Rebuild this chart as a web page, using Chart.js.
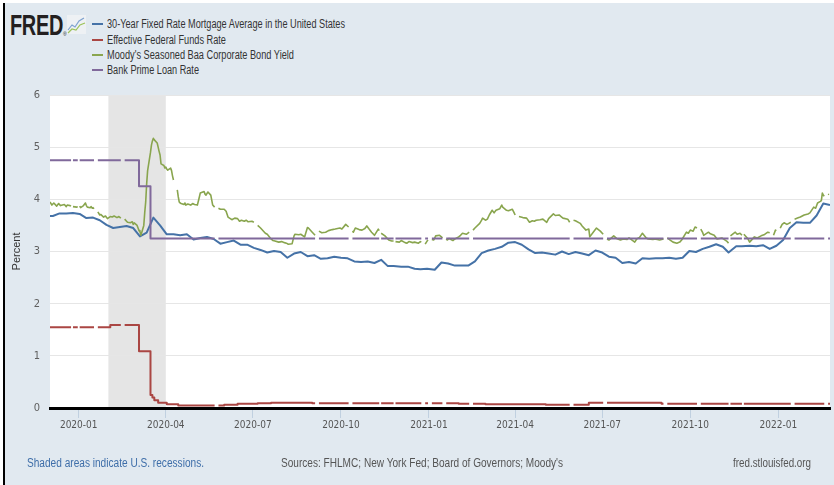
<!DOCTYPE html>
<html>
<head>
<meta charset="utf-8">
<script src="https://cdn.jsdelivr.net/npm/chart.js@4.4.1/dist/chart.umd.min.js"></script>
<style>
  html,body{margin:0;padding:0;background:#fff;}
  #wrap{position:relative;width:834px;height:485px;overflow:hidden;background:#fff;}
  .abs{position:absolute;white-space:nowrap;transform-origin:left center;}
  .lg{font:12px 'Liberation Sans',Arial,sans-serif;line-height:14px;color:#333;}
  .ft{font:12px 'Liberation Sans',Arial,sans-serif;line-height:14px;color:#555;}
  .sw{position:absolute;left:92px;width:11px;height:2px;}
</style>
</head>
<body>
<div id="wrap">
  <div class="abs" style="left:5px;top:3px;width:829px;height:482px;background:#e1e9f0;"></div>
  <div class="abs" style="left:3px;top:3px;width:2px;height:482px;background:#000;"></div>
  <div class="abs" data-w="53" style="left:10px;top:11px;font:bold 29px 'Liberation Sans',Arial,sans-serif;line-height:29px;color:#231f20;letter-spacing:-0.5px;">FRED</div>
  <div class="abs" style="left:63px;top:31px;font:5px 'Liberation Sans',Arial,sans-serif;color:#231f20;">®</div>
  <svg class="abs" style="left:67px;top:15px" width="19" height="19" viewBox="0 0 19 19">
    <rect x="0" y="0" width="19" height="19" fill="#eef1f4"/>
    <polyline points="1,15 5,10 8,12 12,6 17,3" fill="none" stroke="#7ea2cf" stroke-width="1.2"/>
    <polyline points="1,18 5,14 9,15 13,10 18,8" fill="none" stroke="#9cc35a" stroke-width="1.2"/>
  </svg>
  <div id="legend"></div>
  <canvas id="c" width="834" height="485" style="position:absolute;left:0;top:0;"></canvas>
  <div class="abs ft" data-w="177" style="left:27px;top:456px;color:#3e6ea9;">Shaded areas indicate U.S. recessions.</div>
  <div class="abs ft" data-w="282" style="left:281px;top:456px;">Sources: FHLMC; New York Fed; Board of Governors; Moody's</div>
  <div class="abs ft" data-w="78" style="left:733px;top:456px;">fred.stlouisfed.org</div>
</div>
<script>
// ---------------- DATA ----------------
const seriesNames = [
  '30-Year Fixed Rate Mortgage Average in the United States',
  'Effective Federal Funds Rate',
  "Moody's Seasoned Baa Corporate Bond Yield",
  'Bank Prime Loan Rate'
];
const xRange = ['2019-12-02', '2022-02-24'];
const quarterTicks = ['2020-01-01','2020-04-01','2020-07-01','2020-10-01','2021-01-01','2021-04-01','2021-07-01','2021-10-01','2022-01-01'];
const recession = ['2020-02-01', '2020-04-01'];
const yTicks = [0, 1, 2, 3, 4, 5, 6];

// 30-year mortgage (weekly)
const mortgageDates = ['2019-11-27','2019-12-05','2019-12-12','2019-12-19','2019-12-26','2020-01-02','2020-01-09','2020-01-16','2020-01-23','2020-01-30','2020-02-06','2020-02-13','2020-02-20','2020-02-27','2020-03-05','2020-03-12','2020-03-19','2020-03-26','2020-04-02','2020-04-09','2020-04-16','2020-04-23','2020-04-30','2020-05-07','2020-05-14','2020-05-21','2020-05-28','2020-06-04','2020-06-11','2020-06-18','2020-06-25','2020-07-02','2020-07-09','2020-07-16','2020-07-23','2020-07-30','2020-08-06','2020-08-13','2020-08-20','2020-08-27','2020-09-03','2020-09-10','2020-09-17','2020-09-24','2020-10-01','2020-10-08','2020-10-15','2020-10-22','2020-10-29','2020-11-05','2020-11-12','2020-11-19','2020-11-25','2020-12-03','2020-12-10','2020-12-17','2020-12-23','2020-12-30','2021-01-07','2021-01-14','2021-01-21','2021-01-28','2021-02-04','2021-02-11','2021-02-18','2021-02-25','2021-03-04','2021-03-11','2021-03-18','2021-03-25','2021-04-01','2021-04-08','2021-04-15','2021-04-22','2021-04-29','2021-05-06','2021-05-13','2021-05-20','2021-05-27','2021-06-03','2021-06-10','2021-06-17','2021-06-24','2021-07-01','2021-07-08','2021-07-15','2021-07-22','2021-07-29','2021-08-05','2021-08-12','2021-08-19','2021-08-26','2021-09-02','2021-09-09','2021-09-16','2021-09-23','2021-09-30','2021-10-07','2021-10-14','2021-10-21','2021-10-28','2021-11-04','2021-11-10','2021-11-18','2021-11-24','2021-12-02','2021-12-09','2021-12-16','2021-12-23','2021-12-30','2022-01-06','2022-01-13','2022-01-20','2022-01-27','2022-02-03','2022-02-10','2022-02-17','2022-02-24'];
const mortgageValues = [3.68,3.68,3.73,3.73,3.74,3.72,3.64,3.65,3.60,3.51,3.45,3.47,3.49,3.45,3.29,3.36,3.65,3.50,3.33,3.33,3.31,3.33,3.23,3.26,3.28,3.24,3.15,3.18,3.21,3.13,3.13,3.07,3.03,2.98,3.01,2.99,2.88,2.96,2.99,2.91,2.93,2.86,2.87,2.90,2.88,2.87,2.81,2.80,2.81,2.78,2.84,2.72,2.72,2.71,2.71,2.67,2.66,2.67,2.65,2.79,2.77,2.73,2.73,2.73,2.81,2.97,3.02,3.05,3.09,3.17,3.18,3.13,3.04,2.97,2.98,2.96,2.94,3.00,2.95,2.99,2.96,2.93,3.02,2.98,2.90,2.88,2.78,2.80,2.77,2.87,2.86,2.87,2.87,2.88,2.86,2.88,3.01,2.99,3.05,3.09,3.14,3.09,2.98,3.10,3.10,3.11,3.10,3.12,3.05,3.11,3.22,3.45,3.56,3.55,3.55,3.69,3.92,3.89];

// Effective Federal Funds Rate (daily, held between these changes)
const fundsStepDates = ['2019-12-02','2020-02-03','2020-03-04','2020-03-16','2020-03-18','2020-03-20','2020-03-24','2020-04-02','2020-04-14','2020-06-01','2020-06-15','2020-07-06','2020-07-20','2020-09-01','2021-02-01','2021-03-01','2021-05-03','2021-06-17','2021-09-01'];
const fundsStepValues = [1.55,1.59,1.09,0.25,0.20,0.15,0.10,0.07,0.05,0.06,0.08,0.09,0.10,0.09,0.08,0.07,0.06,0.10,0.08];

// Bank Prime Loan Rate (daily, held between these changes)
const primeStepDates = ['2019-12-02','2020-03-04','2020-03-16'];
const primeStepValues = [4.75, 4.25, 3.25];

// Days with no Fed-published value (gaps in the daily lines)
const fedHolidays = ['2019-12-25','2020-01-01','2020-01-20','2020-02-17','2020-05-25','2020-09-07','2020-10-12','2020-11-11','2020-11-26','2020-12-25','2021-01-01','2021-01-18','2021-02-15','2021-05-31','2021-07-05','2021-09-06','2021-10-11','2021-11-11','2021-11-25','2022-01-17','2022-02-21'];

// Moody's Baa (daily, null = missing day)
const baaDates = ['2019-12-02','2019-12-04','2019-12-06','2019-12-09','2019-12-11','2019-12-13','2019-12-17','2019-12-19','2019-12-20','2019-12-23','2019-12-24','2019-12-25','2019-12-26','2019-12-30','2019-12-31','2020-01-01','2020-01-02','2020-01-03','2020-01-06','2020-01-08','2020-01-09','2020-01-10','2020-01-13','2020-01-14','2020-01-15','2020-01-16','2020-01-17','2020-01-20','2020-01-21','2020-01-23','2020-01-24','2020-01-27','2020-01-29','2020-01-31','2020-02-03','2020-02-05','2020-02-07','2020-02-10','2020-02-12','2020-02-14','2020-02-17','2020-02-18','2020-02-20','2020-02-21','2020-02-24','2020-02-26','2020-02-27','2020-02-28','2020-03-02','2020-03-03','2020-03-04','2020-03-05','2020-03-06','2020-03-09','2020-03-10','2020-03-11','2020-03-12','2020-03-13','2020-03-16','2020-03-17','2020-03-18','2020-03-19','2020-03-20','2020-03-23','2020-03-24','2020-03-25','2020-03-26','2020-03-27','2020-03-30','2020-03-31','2020-04-01','2020-04-02','2020-04-03','2020-04-06','2020-04-07','2020-04-08','2020-04-09','2020-04-10','2020-04-13','2020-04-14','2020-04-15','2020-04-16','2020-04-17','2020-04-20','2020-04-21','2020-04-22','2020-04-24','2020-04-27','2020-04-29','2020-05-01','2020-05-04','2020-05-06','2020-05-07','2020-05-11','2020-05-12','2020-05-13','2020-05-15','2020-05-18','2020-05-20','2020-05-22','2020-05-25','2020-05-26','2020-05-28','2020-06-01','2020-06-03','2020-06-05','2020-06-09','2020-06-12','2020-06-15','2020-06-17','2020-06-19','2020-06-22','2020-06-24','2020-06-26','2020-06-30','2020-07-02','2020-07-03','2020-07-06','2020-07-09','2020-07-14','2020-07-16','2020-07-20','2020-07-22','2020-07-24','2020-07-28','2020-07-31','2020-08-03','2020-08-05','2020-08-07','2020-08-11','2020-08-13','2020-08-14','2020-08-18','2020-08-20','2020-08-24','2020-08-27','2020-08-28','2020-09-01','2020-09-04','2020-09-07','2020-09-08','2020-09-11','2020-09-15','2020-09-18','2020-09-22','2020-09-25','2020-09-30','2020-10-02','2020-10-06','2020-10-09','2020-10-12','2020-10-13','2020-10-14','2020-10-16','2020-10-20','2020-10-23','2020-10-26','2020-10-28','2020-10-30','2020-11-02','2020-11-05','2020-11-09','2020-11-10','2020-11-11','2020-11-12','2020-11-16','2020-11-18','2020-11-20','2020-11-23','2020-11-25','2020-11-26','2020-11-27','2020-12-01','2020-12-03','2020-12-07','2020-12-09','2020-12-11','2020-12-15','2020-12-17','2020-12-21','2020-12-23','2020-12-24','2020-12-25','2020-12-28','2020-12-29','2020-12-30','2020-12-31','2021-01-01','2021-01-04','2021-01-06','2021-01-08','2021-01-12','2021-01-14','2021-01-15','2021-01-18','2021-01-19','2021-01-20','2021-01-22','2021-01-26','2021-01-28','2021-02-01','2021-02-03','2021-02-05','2021-02-09','2021-02-12','2021-02-15','2021-02-16','2021-02-18','2021-02-23','2021-02-25','2021-02-26','2021-03-01','2021-03-03','2021-03-05','2021-03-08','2021-03-10','2021-03-12','2021-03-16','2021-03-18','2021-03-19','2021-03-23','2021-03-25','2021-03-29','2021-03-31','2021-04-01','2021-04-02','2021-04-05','2021-04-07','2021-04-09','2021-04-13','2021-04-16','2021-04-19','2021-04-21','2021-04-23','2021-04-27','2021-04-30','2021-05-04','2021-05-06','2021-05-11','2021-05-13','2021-05-17','2021-05-19','2021-05-21','2021-05-26','2021-05-28','2021-05-31','2021-06-01','2021-06-03','2021-06-08','2021-06-10','2021-06-14','2021-06-17','2021-06-18','2021-06-22','2021-06-25','2021-06-29','2021-07-02','2021-07-05','2021-07-06','2021-07-08','2021-07-13','2021-07-16','2021-07-20','2021-07-23','2021-07-27','2021-07-29','2021-08-04','2021-08-06','2021-08-09','2021-08-12','2021-08-16','2021-08-18','2021-08-23','2021-08-25','2021-08-30','2021-09-03','2021-09-06','2021-09-07','2021-09-10','2021-09-13','2021-09-17','2021-09-20','2021-09-22','2021-09-27','2021-09-29','2021-10-01','2021-10-04','2021-10-06','2021-10-08','2021-10-11','2021-10-12','2021-10-14','2021-10-15','2021-10-20','2021-10-22','2021-10-26','2021-10-29','2021-11-03','2021-11-08','2021-11-10','2021-11-11','2021-11-12','2021-11-17','2021-11-19','2021-11-22','2021-11-24','2021-11-25','2021-11-26','2021-11-30','2021-12-02','2021-12-07','2021-12-10','2021-12-14','2021-12-17','2021-12-21','2021-12-23','2021-12-24','2021-12-27','2021-12-29','2021-12-30','2021-12-31','2022-01-03','2022-01-05','2022-01-07','2022-01-10','2022-01-12','2022-01-14','2022-01-17','2022-01-18','2022-01-21','2022-01-24','2022-01-26','2022-01-28','2022-02-01','2022-02-03','2022-02-07','2022-02-09','2022-02-11','2022-02-14','2022-02-15','2022-02-16','2022-02-17','2022-02-18','2022-02-21','2022-02-22','2022-02-23'];
const baaValues = [3.95,3.89,3.93,3.87,3.92,3.88,3.90,3.86,3.89,3.88,3.87,null,3.86,3.85,3.86,null,3.87,3.84,3.88,3.93,3.88,3.85,3.84,3.86,3.83,3.84,3.82,null,3.76,3.70,3.71,3.66,3.68,3.63,3.67,3.66,3.68,3.65,3.67,3.64,null,3.62,3.58,3.56,3.55,3.57,3.52,3.55,3.50,3.45,3.40,3.38,3.31,3.50,3.75,3.95,4.30,4.55,4.90,5.04,5.12,5.17,5.14,5.08,5.00,4.92,4.85,4.68,4.65,4.60,4.62,4.58,4.56,4.60,4.55,4.45,4.37,null,4.18,4.05,3.95,3.93,3.92,3.90,3.93,3.89,3.91,3.89,3.92,3.90,3.89,4.04,4.12,4.15,4.10,4.08,4.14,4.08,3.89,3.85,null,3.83,3.81,3.81,3.77,3.66,3.61,3.64,3.63,3.58,3.60,3.58,3.60,3.57,3.58,3.56,null,3.50,3.45,3.35,3.33,3.24,3.21,3.20,3.18,3.19,3.17,3.16,3.14,3.15,3.30,3.33,3.32,3.33,3.28,3.46,3.45,3.37,3.31,null,3.39,3.36,3.37,3.40,3.42,3.43,3.45,3.43,3.52,3.47,null,3.39,3.37,3.45,3.42,3.41,3.44,3.49,3.44,3.37,3.31,3.43,3.40,null,3.35,3.30,3.26,3.22,3.20,3.20,null,3.19,3.18,3.21,3.17,3.16,3.19,3.17,3.18,3.16,3.19,3.18,null,3.14,3.17,3.20,3.22,null,3.23,3.22,3.30,3.31,3.28,3.26,null,3.24,3.22,3.25,3.21,3.24,3.28,3.31,3.35,3.33,3.37,null,3.41,3.45,3.54,3.60,3.64,3.60,3.62,3.70,3.79,3.74,3.79,3.82,3.89,3.85,3.79,3.78,3.81,3.74,3.70,null,3.67,3.66,3.65,3.64,3.56,3.59,3.58,3.60,3.61,3.62,3.56,3.63,3.72,3.69,3.70,3.67,3.64,3.62,3.56,null,3.60,3.59,3.54,3.49,3.41,3.43,3.28,3.38,3.45,3.39,3.33,null,3.24,3.22,3.30,3.25,3.22,3.24,3.23,3.26,3.18,3.24,3.27,3.35,3.26,3.24,3.23,3.24,3.22,3.24,null,3.26,3.22,3.18,3.16,3.18,3.22,3.37,3.35,3.41,3.39,3.47,3.45,null,3.43,3.36,3.31,3.37,3.34,3.31,3.24,3.26,3.20,3.16,null,3.30,3.37,3.33,3.35,3.31,null,3.33,3.25,3.18,3.28,3.26,3.30,3.32,3.37,3.36,null,3.31,3.41,3.40,null,3.45,3.52,3.55,3.52,3.54,3.56,null,3.62,3.64,3.66,3.68,3.70,3.72,3.74,3.85,3.83,3.93,3.96,3.98,4.12,4.08,4.06,null,4.10,4.09];

// ---------------- BUILD ----------------
const FONT = "'Liberation Sans Narrow','DejaVu Sans Condensed','Liberation Sans',Arial,sans-serif";
const colors = ['#4572a7', '#aa4643', '#89a54e', '#80699b'];
const DAY = 86400000;
const T = d => Date.parse(d + 'T00:00:00Z');
function bizStep(t, dir) { do { t += dir * DAY; } while ([0, 6].includes(new Date(t).getUTCDay())); return t; }
function steppedTable(stepDates, stepValues, gaps) {
  const starts = stepDates.map(T);
  const at = t => { let v = null; starts.forEach((s, i) => { if (s <= t) v = stepValues[i]; }); return v; };
  const gapT = gaps.map(T);
  const ts = new Set(starts);
  ts.add(T(xRange[1]));
  gapT.forEach(g => { ts.add(bizStep(g, -1)); ts.add(bizStep(g, 1)); ts.add(g); });
  return [...ts].sort((a, b) => a - b).map(t => ({ x: t, y: gapT.includes(t) ? null : at(t) }));
}
const pairs = (ds, vs) => ds.map((d, i) => ({ x: T(d), y: vs[i] }));

// legend (HTML)
const lg = document.getElementById('legend');
const lgCenters = [24, 39.5, 54.5, 70];
seriesNames.forEach((n, i) => {
  const sw = document.createElement('div');
  sw.className = 'sw'; sw.style.top = (lgCenters[i] - 1) + 'px'; sw.style.background = colors[i];
  lg.appendChild(sw);
  const tx = document.createElement('div');
  tx.className = 'abs lg'; tx.textContent = n; tx.style.left = '107px'; tx.style.top = (lgCenters[i] - 7) + 'px';
  tx.dataset.w = [238, 119, 187, 92][i];
  lg.appendChild(tx);
});
document.querySelectorAll('[data-w]').forEach(el => {
  const w = el.getBoundingClientRect().width;
  el.style.transform = 'scaleX(' + (+el.dataset.w / w) + ')';
});

const bgPlugin = {
  id: 'bg',
  beforeDraw(chart) {
    const { ctx, chartArea: a, scales: { x } } = chart;
    ctx.save();
    ctx.fillStyle = '#ffffff';
    ctx.fillRect(a.left, a.top, a.right - a.left, a.bottom - a.top);
    const x0 = x.getPixelForValue(T(recession[0])), x1 = x.getPixelForValue(T(recession[1]));
    ctx.fillStyle = '#e5e5e5';
    ctx.fillRect(x0, a.top, x1 - x0, a.bottom - a.top);
    ctx.restore();
  }
};

const common = { pointRadius: 0, pointHoverRadius: 0, tension: 0, spanGaps: false, fill: false, borderCapStyle: 'butt', borderJoinStyle: 'round' };

new Chart(document.getElementById('c'), {
  type: 'line',
  data: {
    datasets: [
      { ...common, label: seriesNames[0], data: pairs(mortgageDates, mortgageValues), borderColor: colors[0], borderWidth: 2, order: 3 },
      { ...common, label: seriesNames[1], data: steppedTable(fundsStepDates, fundsStepValues, fedHolidays), borderColor: colors[1], borderWidth: 2, stepped: 'before', order: 2 },
      { ...common, label: seriesNames[2], data: pairs(baaDates, baaValues), borderColor: colors[2], borderWidth: 1.6, order: 1 },
      { ...common, label: seriesNames[3], data: steppedTable(primeStepDates, primeStepValues, fedHolidays), borderColor: colors[3], borderWidth: 2, stepped: 'before', order: 0 }
    ]
  },
  options: {
    responsive: false,
    animation: false,
    devicePixelRatio: 1,
    events: [],
    layout: { padding: { top: 95, right: 4, left: 0, bottom: 0 } },
    plugins: { legend: { display: false }, tooltip: { enabled: false } },
    scales: {
      x: {
        type: 'linear',
        min: T(xRange[0]), max: T(xRange[1]),
        afterFit(s) { s.height = 77; },
        afterBuildTicks(s) { s.ticks = quarterTicks.map(d => ({ value: T(d) })); },
        grid: { drawOnChartArea: false, drawTicks: true, tickLength: 10, color: '#c0d0e0', lineWidth: 1 },
        border: { display: true, color: '#000000', width: 3 },
        ticks: {
          autoSkip: false, maxRotation: 0, padding: 1, color: '#555',
          font: { family: FONT, size: 10 },
          callback: v => new Date(v).toISOString().slice(0, 7)
        }
      },
      y: {
        min: 0, max: 6,
        afterFit(s) { s.width = 50; },
        afterBuildTicks(s) { s.ticks = yTicks.map(v => ({ value: v })); },
        grid: { color: '#e6e6e6', lineWidth: 1, drawTicks: false },
        border: { display: false },
        ticks: { padding: 10, color: '#606060', font: { family: FONT, size: 11 } },
        title: { display: true, text: 'Percent', color: '#333', font: { family: "'Liberation Sans',Arial,sans-serif", size: 11 }, padding: { top: 10, bottom: 0 } }
      }
    }
  },
  plugins: [bgPlugin]
});
</script>
</body>
</html>
